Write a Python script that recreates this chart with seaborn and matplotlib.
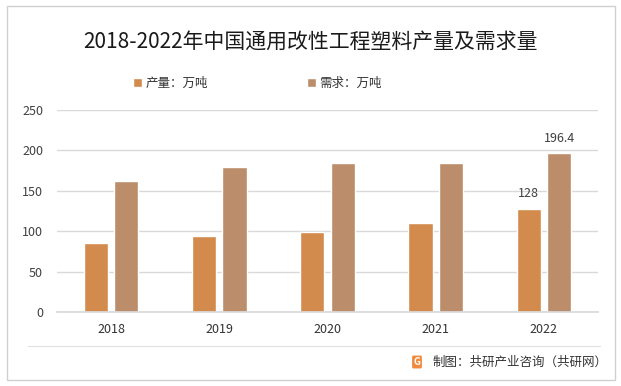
import pandas as pd
import matplotlib.pyplot as plt
import seaborn as sns
from matplotlib.patches import FancyBboxPatch

sns.set_theme(style="white")
plt.rcParams['font.family'] = ['Noto Sans CJK SC', 'DejaVu Sans']

# ── data ──
years = ["2018", "2019", "2020", "2021", "2022"]
production = [85, 94, 99, 110, 128]
demand = [162, 179.5, 184, 184, 196.4]
series_names = ["产量：万吨", "需求：万吨"]
colors = ["#D38B4D", "#BC8D6B"]

df = pd.DataFrame({
    "year": years * 2,
    "value": production + demand,
    "series": [series_names[0]] * len(years) + [series_names[1]] * len(years),
})

fig = plt.figure(figsize=(6.21, 3.86), dpi=100)
ax = fig.add_axes([57 / 621, 1 - 312 / 386, 541 / 621, 202 / 386])

sns.barplot(data=df, x="year", y="value", hue="series", palette=colors,
            width=0.56, gap=0.2, saturation=1, ax=ax, legend=True)

ax.set_ylim(0, 250)
ax.set_yticks(range(0, 251, 50))
ax.set_xlabel("")
ax.set_ylabel("")
ax.yaxis.grid(True, color="#D9D9D9", linewidth=1)
ax.set_axisbelow(True)
for s in ["left", "right", "top"]:
    ax.spines[s].set_visible(False)
ax.spines["bottom"].set_color("#D9D9D9")
ax.tick_params(axis="both", length=0, labelsize=9, colors="#333333", pad=8)
ax.tick_params(axis="y", pad=10, colors="#404040")

# labels only for the last year
for i, cont in enumerate(ax.containers):
    labels = [""] * (len(years) - 1) + [f"{[production, demand][i][-1]:g}"]
    ax.bar_label(cont, labels=labels, padding=6, fontsize=9, color="#404040")

# legend
handles, labs = ax.get_legend_handles_labels()
ax.legend(handles, labs, ncol=2, frameon=False, loc="center",
          bbox_to_anchor=(257.5 / 621, 1 - 83 / 386), bbox_transform=fig.transFigure,
          fontsize=9, handlelength=0.7, handleheight=0.7, handletextpad=0.3,
          columnspacing=7.9, labelcolor="#333333")

# title
fig.text(0.5, 1 - 42 / 386, "2018-2022年中国通用改性工程塑料产量及需求量",
         ha="center", va="center", fontsize=15, color="#1a1a1a")

# outer frame
fig.patches.append(FancyBboxPatch((7 / 621, 6 / 386), 608 / 621, 374 / 386,
                                  boxstyle="square,pad=0", fill=False,
                                  edgecolor="#D0D0D0", linewidth=1,
                                  transform=fig.transFigure, figure=fig))

# footer
fig.add_artist(plt.Line2D([28 / 621, 600 / 621], [1 - 346 / 386, 1 - 346 / 386],
                          color="#E0E0E0", linewidth=0.8, transform=fig.transFigure))
fig.text(417 / 621, 1 - 362 / 386, "G", ha="center", va="center", fontsize=7,
         color="white", fontweight="bold",
         bbox=dict(boxstyle="round,pad=0.15", facecolor="#F08A3C", edgecolor="none"))
fig.text(433 / 621, 1 - 362 / 386, "制图：共研产业咨询（共研网）", ha="left",
         va="center", fontsize=9, color="#333333")

plt.savefig("out.png", dpi=100)
plt.close()
